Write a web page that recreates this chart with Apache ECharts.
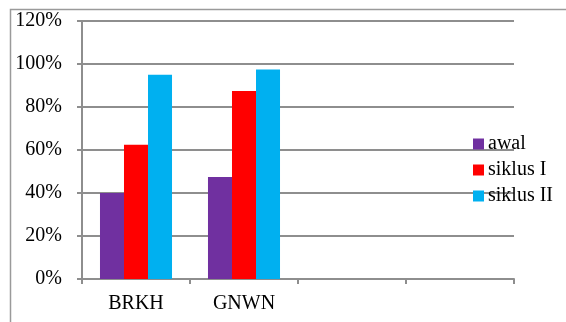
<!DOCTYPE html>
<html>
<head>
<meta charset="utf-8">
<script src="https://cdn.jsdelivr.net/npm/echarts@6/dist/echarts.min.js"></script>
<style>
  html, body { margin: 0; padding: 0; background: #fff; }
  #chart { width: 566px; height: 322px; }
</style>
</head>
<body>
<div id="chart"></div>
<script>
// Student groups on the x axis (two trailing empty slots keep the axis width)
const categories = ['BRKH', 'GNWN', '', ''];
// Percentages per stage
const awal = [40, 47.5, null, null];
const siklusI = [62.5, 87.5, null, null];
const siklusII = [95, 97.5, null, null];
const seriesNames = ['awal', 'siklus I', 'siklus II'];
const seriesColors = ['#7030A0', '#FF0000', '#00B0F0'];

const gridGray = '#8e8e8e';
const font = '"Liberation Serif", "DejaVu Serif", serif';

const chart = echarts.init(document.getElementById('chart'), null, { renderer: 'canvas' });

const makeBar = (name, data, color) => ({
  name: name,
  type: 'bar',
  data: data,
  barGap: '0%',
  barCategoryGap: '33.3%',
  itemStyle: { color: color },
  emphasis: { disabled: true }
});

chart.setOption({
  animation: false,
  backgroundColor: '#fff',
  textStyle: { fontFamily: font },
  graphic: [{
    type: 'rect',
    shape: { x: 10.5, y: 9.5, width: 600, height: 400 },
    style: { fill: 'none', stroke: '#9a9a9a', lineWidth: 1.5 },
    z: -1
  }],
  grid: { left: 82, right: 52, top: 21, bottom: 43, containLabel: false },
  legend: {
    orient: 'vertical',
    left: 468,
    top: 129,
    itemWidth: 11,
    itemHeight: 11,
    itemGap: 6,
    icon: 'rect',
    textStyle: { fontFamily: font, fontSize: 20, color: '#000', padding: [0, 0, 0, -1] },
    data: seriesNames
  },
  xAxis: {
    type: 'category',
    data: categories,
    axisLine: { lineStyle: { color: gridGray, width: 2 } },
    axisTick: { show: true, length: 5, alignWithLabel: false, lineStyle: { color: gridGray, width: 2 } },
    axisLabel: { fontFamily: font, fontSize: 20, color: '#000', margin: 15 }
  },
  yAxis: {
    type: 'value',
    min: 0,
    max: 120,
    interval: 20,
    axisLine: { show: true, lineStyle: { color: gridGray, width: 2 } },
    axisTick: { show: true, length: 5, lineStyle: { color: gridGray, width: 2 } },
    splitLine: { show: true, lineStyle: { color: gridGray, width: 2 } },
    axisLabel: { fontFamily: font, fontSize: 20, color: '#000', margin: 20, formatter: '{value}%' }
  },
  series: [
    makeBar(seriesNames[0], awal, seriesColors[0]),
    makeBar(seriesNames[1], siklusI, seriesColors[1]),
    makeBar(seriesNames[2], siklusII, seriesColors[2])
  ]
});
</script>
</body>
</html>
